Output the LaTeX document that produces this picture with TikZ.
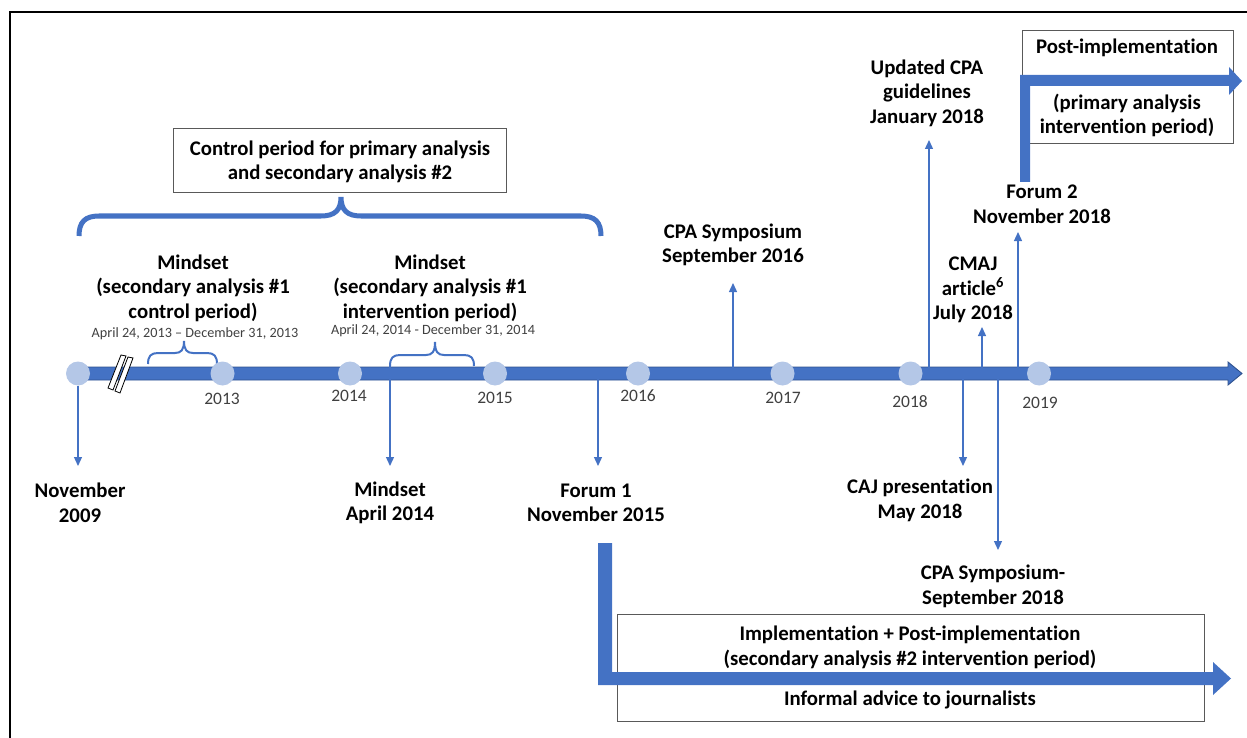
\documentclass[tikz,border=0pt]{standalone}
\usepackage{fontspec}
\setmainfont{Carlito}[Ligatures={TeX,NoCommon}]
\usetikzlibrary{arrows.meta}
\definecolor{tblue}{HTML}{4472C4}
\definecolor{tdark}{HTML}{2F528F}
\definecolor{tlight}{HTML}{B4C7E7}
\definecolor{tgray}{HTML}{404040}
\definecolor{boxgray}{HTML}{595959}
\begin{document}
\begin{tikzpicture}[x=1pt,y=-1pt,
  lbl/.style={font=\fontsize{20.8}{24.5}\selectfont\bfseries, align=center, inner sep=0pt, text=black},
  yr/.style={font=\fontsize{17.5}{20}\selectfont, text=tgray, inner sep=0pt},
  dt/.style={font=\fontsize{14.2}{16}\selectfont, text=tgray, inner sep=0pt},
  dot/.style={circle, fill=tlight, minimum size=24pt, inner sep=0pt},
  thinarrow/.style={draw=tblue, line width=1.3pt, -{Triangle[width=8pt,length=9pt]}},
  bigbrace/.style={draw=tblue, line width=5pt},
  smallbrace/.style={draw=tblue, line width=2pt},
  framebox/.style={draw=boxgray, line width=1pt, inner sep=0pt},
  thickarrow/.style={fill=tblue},
]
\useasboundingbox (0,0) rectangle (1247,738);
% outer frame
\draw[line width=2pt] (10,740) -- (10,12) -- (1249,12);

% boxes
\node[framebox, minimum width=333pt, minimum height=64pt] (ctrl) at (339.5,161) {};
\node[lbl] (ctrltxt) at (340,162) {Control period for primary analysis\\and secondary analysis \#2};
\node[framebox, minimum width=211pt, minimum height=113pt] (postbox) at (1127.5,87.5) {};
\node[framebox, minimum width=587pt, minimum height=107pt] (implbox) at (910.5,667.5) {};

% thick arrows
\fill[thickarrow] (1020,182) -- (1020,75) -- (1229,75) -- (1229,67) -- (1242,81) -- (1229,95) -- (1229,86) -- (1030,86) -- (1030,182) -- cycle;
\fill[thickarrow] (598,543) -- (612,543) -- (612,672) -- (1213,672) -- (1213,662) -- (1231,678.5) -- (1213,695) -- (1213,685) -- (598,685) -- cycle;

\node[lbl] (posttxt) at (1127,48) {Post-implementation};
\node[lbl] (primtxt) at (1127,115.5) {(primary analysis\\intervention period)};
\node[lbl] (impltxt) at (910,647.5) {Implementation + Post-implementation\\(secondary analysis \#2 intervention period)};
\node[lbl] (advtxt) at (910,700) {Informal advice to journalists};

% big brace
\draw[bigbrace] (79,236) .. controls (79,222) and (85,216) .. (99,216) -- (321,216)
  .. controls (335,216) and (341,210) .. (341,197)
  .. controls (341,210) and (347,216) .. (361,216) -- (581,216)
  .. controls (595,216) and (601,222) .. (601,236);

% small braces
\draw[smallbrace] (148,364) .. controls (148,356) and (151,353) .. (158,353) -- (175,353)
  .. controls (181,353) and (184,350) .. (184,341)
  .. controls (184,350) and (187,353) .. (193,353) -- (207,353)
  .. controls (214,353) and (217,356) .. (217,364);
\draw[smallbrace] (390,366) .. controls (390,358) and (393,355) .. (400,355) -- (426,355)
  .. controls (432,355) and (435,352) .. (435,342)
  .. controls (435,352) and (438,355) .. (444,355) -- (464,355)
  .. controls (471,355) and (474,358) .. (474,366);
\coordinate (b2l) at (390,366);

% timeline bar
\draw[fill=tblue, draw=tdark, line width=0.9pt] (78,367) -- (1228,367) -- (1228,362) -- (1242,373.5) -- (1228,385) -- (1228,380) -- (78,380) -- cycle;

% break mark
\draw[fill=white, line width=0.8pt] (108,388) -- (121,355) -- (126,356) -- (113,390) -- cycle;
\draw[fill=white, line width=0.8pt] (115,391) -- (128,357) -- (133,358) -- (120,393) -- cycle;

% year dots
\node[dot] (c09) at (78,373.5) {};
\node[dot] (c13) at (222.5,373.5) {};
\node[dot] (c14) at (350,373.5) {};
\node[dot] (c15) at (495,373.5) {};
\node[dot] (c16) at (638,373.5) {};
\node[dot] (c17) at (782.5,373.5) {};
\node[dot] (c18) at (910.5,373.5) {};
\node[dot] (c19) at (1039,373.5) {};

% year labels
\node[yr] (y13) at (222,399) {2013};
\node[yr] (y14) at (349,396) {2014};
\node[yr] (y15) at (495,398) {2015};
\node[yr] (y16) at (638,396) {2016};
\node[yr] (y17) at (783,398) {2017};
\node[yr] (y18) at (910,402) {2018};
\node[yr] (y19) at (1040,403) {2019};

% upper labels
\node[lbl] (ms1) at (193,288) {Mindset\\(secondary analysis \#1\\control period)};
\node[dt] (d13) at (195,334) {April 24, 2013 – December 31, 2013};
\node[lbl] (ms2) at (430,288) {Mindset\\(secondary analysis \#1\\intervention period)};
\node[dt] (d14) at (433,331) {April 24, 2014 - December 31, 2014};
\node[lbl] (cpa16) at (733,245) {CPA Symposium\\September 2016};
\node[lbl] (upd) at (927,93) {Updated CPA\\guidelines\\January 2018};
\node[lbl] (f2) at (1042,204.5) {Forum 2\\November 2018};
\node[lbl] (cmaj) at (973,290) {CMAJ\\article\textsuperscript{6}\\July 2018};

% lower labels
\node[lbl] (nov09) at (80,503) {November\\2009};
\node[lbl] (msapr) at (390,503) {Mindset\\April 2014};
\node[lbl] (f1) at (596,503) {Forum 1\\November 2015};
\node[lbl] (caj) at (920,500.5) {CAJ presentation\\May 2018};
\node[lbl] (cpa18) at (993,586.5) {CPA Symposium-\\September 2018};

% arrow coordinates
\coordinate (t15) at (598,373.5);
\coordinate (t16) at (733,373.5);
\coordinate (t18a) at (929,373.5);
\coordinate (t18b) at (963,373.5);
\coordinate (t18c) at (982,373.5);
\coordinate (t18d) at (998,373.5);
\coordinate (t18e) at (1018,373.5);
\coordinate (e09) at (78,466);
\coordinate (eapr) at (390,466);
\coordinate (ef1) at (598,466);
\coordinate (ecpa16) at (733,283);
\coordinate (eupd) at (929,140);
\coordinate (ecaj) at (963,466);
\coordinate (ecmaj) at (982,327);
\coordinate (ecpa18) at (998,550);
\coordinate (ef2) at (1018,232);

% thin arrows
\draw[thinarrow] (c09) -- (e09);
\draw[thinarrow] (b2l) -- (eapr);
\draw[thinarrow] (t15) -- (ef1);
\draw[thinarrow] (t16) -- (ecpa16);
\draw[thinarrow] (t18a) -- (eupd);
\draw[thinarrow] (t18b) -- (ecaj);
\draw[thinarrow] (t18c) -- (ecmaj);
\draw[thinarrow] (t18d) -- (ecpa18);
\draw[thinarrow] (t18e) -- (ef2);
\end{tikzpicture}
\end{document}
